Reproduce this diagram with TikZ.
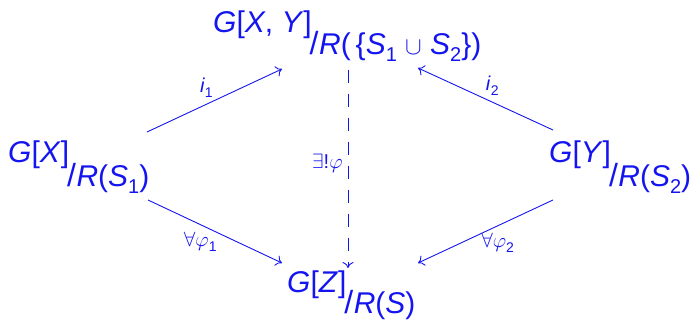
\documentclass[tikz,border=0pt]{standalone}
\usepackage{fontspec}
\setmainfont{Liberation Sans}
\usetikzlibrary{arrows.meta}
\definecolor{dblue}{RGB}{20,20,240}
\newcommand{\vi}[1]{\textit{#1}}
\newcommand{\sbb}[1]{\raisebox{-0.22em}{\fontsize{20}{21}\selectfont #1}}
\newcommand{\sbl}[1]{\raisebox{-0.25em}{\fontsize{14}{15}\selectfont #1}}
\newcommand{\qt}[3]{\raisebox{#3}{#1}\kern-2pt{\fontsize{32}{34}\selectfont/}\kern0.5pt#2}
\begin{document}
\begin{tikzpicture}[x=1pt,y=-1pt,
  obj/.style={inner sep=0pt, anchor=base west, text=dblue, font=\fontsize{30}{34}\selectfont},
  arr/.style={draw=dblue, line width=0.9pt, -{To[length=6pt,width=11pt]}},
  lbl/.style={text=dblue, inner sep=1pt, font=\fontsize{20}{22}\selectfont}]
\useasboundingbox (0,0) rectangle (693,320);
\node[obj] (t) at (213,55) {\qt{\vi{G}[\vi{X}, \vi{Y}]}{\vi{R}(\,\{\vi{S}\sbb{1} $\cup$ \vi{S}\sbb{2}\})}{22pt}};
\node[obj] (l) at (8,187) {\qt{\vi{G}[\vi{X}]}{\vi{R}(\vi{S}\sbb{1})}{24pt}};
\node[obj] (r) at (549,187) {\qt{\vi{G}[\vi{Y}]}{\vi{R}(\vi{S}\sbb{2})}{24pt}};
\node[obj] (b) at (287,313) {\qt{\vi{G}[\vi{Z}]}{\vi{R}(\vi{S})}{21pt}};
\draw[arr] ([shift={(139,-55)}]l.base west) -- node[lbl, pos=0.44, above=5pt] {\vi{i}\sbl{1}} ([shift={(69,14)}]t.base west);
\draw[arr] ([shift={(4,-57)}]r.base west) -- node[lbl, pos=0.45, above=5pt] {\vi{i}\sbl{2}} ([shift={(205,13)}]t.base west);
\draw[arr] ([shift={(140,13)}]l.base west) -- node[lbl, pos=0.39, below=6pt] {$\forall\varphi$\sbl{1}} ([shift={(-5,-50)}]b.base west);
\draw[arr] ([shift={(4,13)}]r.base west) -- node[lbl, pos=0.41, below=6pt] {$\forall\varphi$\sbl{2}} ([shift={(131,-50)}]b.base west);
\draw[arr, dash pattern=on 13pt off 11pt] ([shift={(135,15)}]t.base west) -- node[lbl, pos=0.47, left=4pt] {$\exists$!$\varphi$} ([shift={(61,-45)}]b.base west);
\end{tikzpicture}
\end{document}
